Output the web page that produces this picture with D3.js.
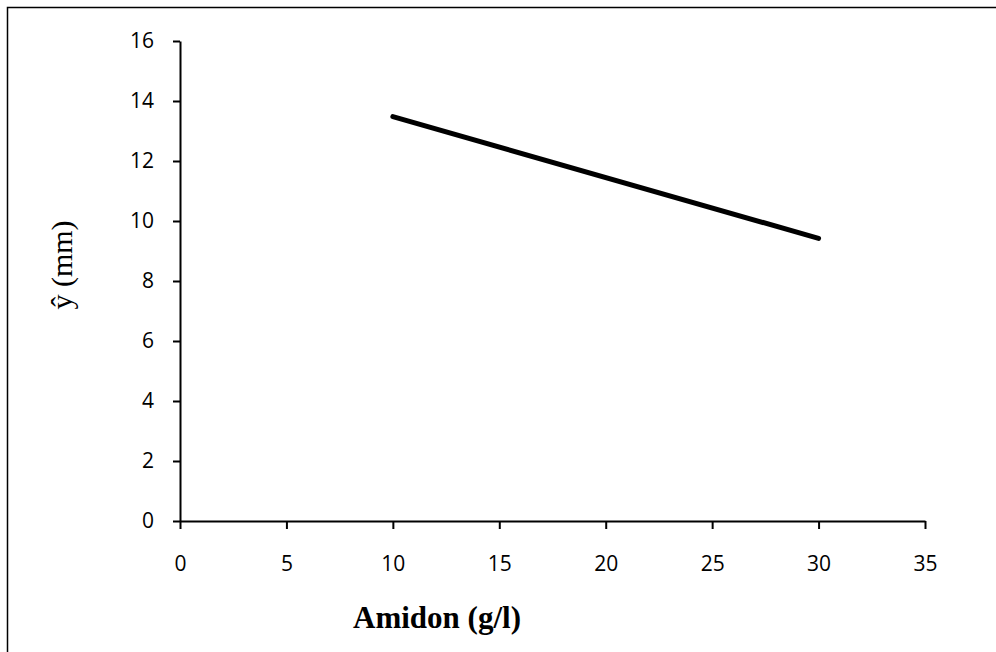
<!DOCTYPE html>
<html>
<head>
<meta charset="utf-8">
<script src="https://cdn.jsdelivr.net/npm/d3@7"></script>
<style>
  body { margin: 0; background: #fff; }
  svg { display: block; }
</style>
</head>
<body>
<svg id="chart"></svg>
<script>
const xValues = [10, 30];
const yValues = [13.48, 9.42];
const xTicks = [0, 5, 10, 15, 20, 25, 30, 35];
const yTicks = [0, 2, 4, 6, 8, 10, 12, 14, 16];

const width = 996;
const height = 652;

const svg = d3.select("#chart")
  .attr("width", width)
  .attr("height", height);

// outer frame (only top/left visible in the picture)
svg.append("path")
  .attr("d", "M7.5,660 V7.5 H1000")
  .attr("fill", "none")
  .attr("stroke", "#000")
  .attr("stroke-width", 1.5);

const x = d3.scaleLinear().domain([0, 35]).range([180, 925]);
const y = d3.scaleLinear().domain([0, 16]).range([521, 41]);

const tickFont = "'Open Sans', sans-serif";

const yAxis = svg.append("g")
  .attr("transform", `translate(${x(0)},0)`)
  .call(d3.axisLeft(y).tickValues(yTicks).tickSize(7).tickSizeOuter(0).tickPadding(19));

const xAxis = svg.append("g")
  .attr("transform", `translate(0,${y(0)})`)
  .call(d3.axisBottom(x).tickValues(xTicks).tickSize(8).tickSizeOuter(0).tickPadding(27));

[yAxis, xAxis].forEach(g => {
  g.select(".domain").attr("stroke", "#000").attr("stroke-width", 2);
  g.selectAll(".tick line").attr("stroke", "#000").attr("stroke-width", 2);
  g.selectAll(".tick text")
    .attr("fill", "#000")
    .style("font-family", tickFont)
    .style("font-size", "21px");
});

const line = d3.line()
  .x((d, i) => x(xValues[i]))
  .y(d => y(d));

svg.append("path")
  .datum(yValues)
  .attr("d", line)
  .attr("fill", "none")
  .attr("stroke", "#000")
  .attr("stroke-width", 5)
  .attr("stroke-linecap", "round");

svg.append("text")
  .attr("x", 437)
  .attr("y", 628)
  .attr("text-anchor", "middle")
  .style("font-family", "'Liberation Serif', 'Times New Roman', serif")
  .style("font-weight", "bold")
  .style("font-size", "31px")
  .text("Amidon (g/l)");

svg.append("text")
  .attr("transform", "translate(72,265) rotate(-90)")
  .attr("text-anchor", "middle")
  .style("font-family", "'Liberation Serif', 'Times New Roman', serif")
  .style("font-size", "30px")
  .text("ŷ (mm)");
</script>
</body>
</html>
